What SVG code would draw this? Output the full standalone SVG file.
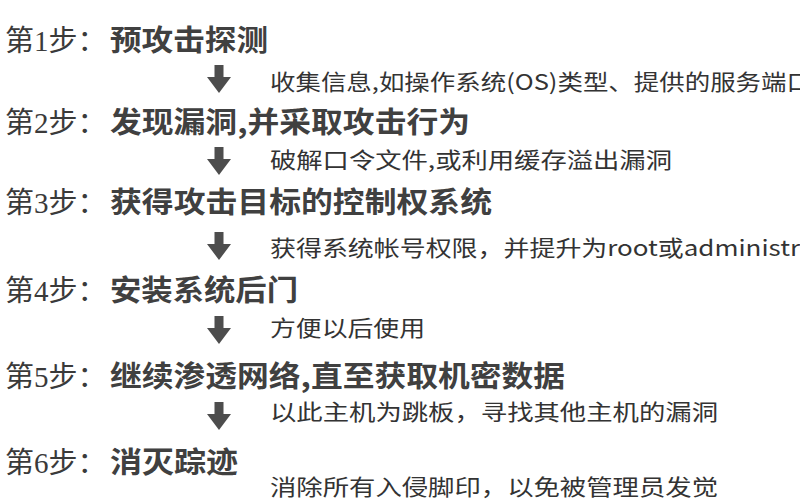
<svg xmlns="http://www.w3.org/2000/svg" xmlns:xlink="http://www.w3.org/1999/xlink" width="800" height="500" viewBox="0 0 800 500">
<defs>
<style>
.step{font-family:"Liberation Serif","Noto Sans CJK SC",serif;font-size:29px;fill:#3a3a3a}
.head{font-family:"Noto Sans CJK SC",sans-serif;font-size:29px;font-weight:700;fill:#404040}
.desc{font-family:"Noto Sans CJK SC",sans-serif;font-size:22px;fill:#333}
.arr{fill:#4d4d4d}
</style>
<path id="arr" d="M-4.5,0 H4.5 V12 H12 L0,28 L-12,12 H-4.5 Z"/>
</defs>
<rect width="800" height="500" fill="#ffffff"/>
<g id="connectors" class="arr">
<use xlink:href="#arr" href="#arr" x="219" y="65"/>
<use xlink:href="#arr" href="#arr" x="219" y="147"/>
<use xlink:href="#arr" href="#arr" x="219" y="232"/>
<use xlink:href="#arr" href="#arr" x="219" y="316"/>
<use xlink:href="#arr" href="#arr" x="219" y="402"/>
</g>
<g id="step1"><text class="step" x="5" y="51">第1步：</text><text class="head" x="110" y="51" textLength="158" lengthAdjust="spacingAndGlyphs">预攻击探测</text></g>
<g id="desc1"><text class="desc" x="270" y="90" textLength="542" lengthAdjust="spacingAndGlyphs">收集信息,如操作系统(OS)类型、提供的服务端口</text></g>
<g id="step2"><text class="step" x="5" y="133">第2步：</text><text class="head" x="110" y="133" textLength="360" lengthAdjust="spacingAndGlyphs">发现漏洞,并采取攻击行为</text></g>
<g id="desc2"><text class="desc" x="270" y="168" textLength="402" lengthAdjust="spacingAndGlyphs">破解口令文件,或利用缓存溢出漏洞</text></g>
<g id="step3"><text class="step" x="5" y="213">第3步：</text><text class="head" x="110" y="213" textLength="382" lengthAdjust="spacingAndGlyphs">获得攻击目标的控制权系统</text></g>
<g id="desc3"><text class="desc" x="270" y="256" textLength="530" lengthAdjust="spacingAndGlyphs">获得系统帐号权限，并提升为root或administr</text></g>
<g id="step4"><text class="step" x="5" y="301">第4步：</text><text class="head" x="110" y="301" textLength="188" lengthAdjust="spacingAndGlyphs">安装系统后门</text></g>
<g id="desc4"><text class="desc" x="270" y="336" textLength="155" lengthAdjust="spacingAndGlyphs">方便以后使用</text></g>
<g id="step5"><text class="step" x="5" y="387">第5步：</text><text class="head" x="110" y="387" textLength="455" lengthAdjust="spacingAndGlyphs">继续渗透网络,直至获取机密数据</text></g>
<g id="desc5"><text class="desc" x="270" y="420" textLength="448" lengthAdjust="spacingAndGlyphs">以此主机为跳板，寻找其他主机的漏洞</text></g>
<g id="step6"><text class="step" x="5" y="473">第6步：</text><text class="head" x="110" y="473" textLength="128" lengthAdjust="spacingAndGlyphs">消灭踪迹</text></g>
<g id="desc6"><text class="desc" x="270" y="495" textLength="448" lengthAdjust="spacingAndGlyphs">消除所有入侵脚印，以免被管理员发觉</text></g>
</svg>
